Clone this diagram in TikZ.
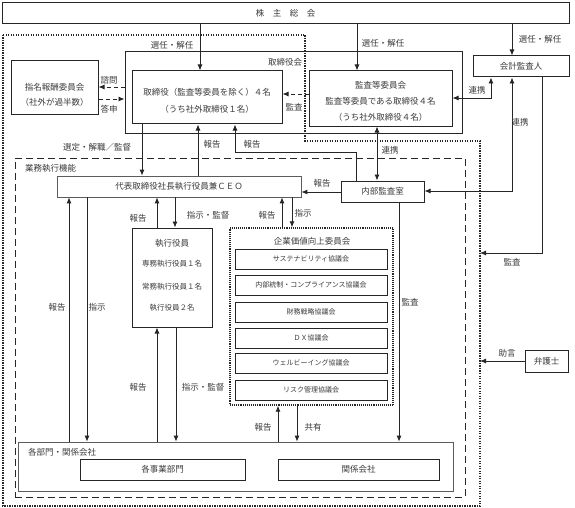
\documentclass[tikz,border=0pt]{standalone}
\usepackage{fontspec}
\newfontfamily\jp{Noto Sans CJK JP}
\usetikzlibrary{arrows.meta}
\definecolor{ln}{HTML}{262626}
\definecolor{tx}{HTML}{3A3A3A}
\tikzset{
  every node/.style={font=\jp\fontsize{8.5}{10}\selectfont, text=tx, inner sep=0pt},
  box/.style={draw=ln, line width=1pt, rectangle},
  thinbox/.style={draw=ln!75, line width=0.7pt, rectangle},
  arr/.style={draw=ln, line width=0.85pt, -{Latex[length=6pt,width=5pt]}},
  darr/.style={draw=ln, line width=0.85pt, {Latex[length=6pt,width=5pt]}-{Latex[length=6pt,width=5pt]}},
  dasharr/.style={arr, dash pattern=on 4pt off 3pt},
  outerdot/.style={draw=ln, line width=2pt, dash pattern=on 1.4pt off 1.1pt},
  commdot/.style={draw=ln, line width=1.4pt, dash pattern=on 1pt off 0.9pt, rectangle},
  funcbox/.style={draw=ln, line width=1pt, dash pattern=on 7pt off 4pt, rectangle},
  subbox/.style={draw=ln, line width=0.75pt, rectangle, minimum width=152pt, minimum height=20pt, font=\jp\fontsize{7}{8}\selectfont},
  small/.style={font=\jp\fontsize{7.5}{9}\selectfont},
}
\begin{document}
\begin{tikzpicture}[x=1pt,y=-1pt]
\useasboundingbox (0,0) rectangle (575,508);
% outer dotted boundary
\draw[outerdot] (3,35) -- (305,35) -- (305,141) -- (480,141) -- (480,506) -- (3,506) -- cycle;
\coordinate (od1) at (480,253);
\coordinate (od2) at (480,361);
% execution function dashed box
\node[funcbox, minimum width=450pt, minimum height=339pt] (func) at (240,327.5) {};
\node[anchor=west] (funcl) at (25,168) {業務執行機能};
% shareholders
\node[box, minimum width=567pt, minimum height=21pt] (sh) at (285.5,13.5) {株　主　総　会};
% board
\node[box, minimum width=337pt, minimum height=81pt] (board) at (293.5,92.5) {};
\node (boardl) at (285,62) {取締役会};
\node[box, minimum width=150pt, minimum height=53pt] (dir) at (207,97.5) {};
\node (dir1) at (207,92) {取締役（監査等委員を除く）４名};
\node (dir2) at (207,109) {（うち社外取締役１名）};
\node[box, minimum width=143pt, minimum height=55pt] (audit) at (380.5,98.5) {};
\node (aud1) at (380.5,85) {監査等委員会};
\node (aud2) at (380.5,101) {監査等委員である取締役４名};
\node (aud3) at (380.5,117) {（うち社外取締役４名）};
% nominating
\node[box, minimum width=87pt, minimum height=54pt] (nom) at (54.5,88) {};
\node (nom1) at (54.5,87) {指名報酬委員会};
\node (nom2) at (54.5,102) {（社外が過半数）};
% accounting auditor, lawyer
\node[box, minimum width=96pt, minimum height=21pt] (auditor) at (521,66.5) {会計監査人};
\node[box, minimum width=43pt, minimum height=22pt] (lawyer) at (546.5,361) {弁護士};
% internal audit, CEO
\node[box, minimum width=83pt, minimum height=21pt] (ia) at (382.5,191.5) {内部監査室};
\node[thinbox, minimum width=244pt, minimum height=21pt] (ceo) at (179,186.5) {代表取締役社長執行役員兼ＣＥＯ};
% executive officers
\node[box, minimum width=80pt, minimum height=99pt] (exec) at (172,277.5) {};
\node (ex1) at (172,243) {執行役員};
\node[small] (ex2) at (172,264) {専務執行役員１名};
\node[small] (ex3) at (172,287) {常務執行役員１名};
\node[small] (ex4) at (172,308) {執行役員２名};
% committee
\node[commdot, minimum width=163pt, minimum height=177pt] (comm) at (311.5,316.5) {};
\node (comml) at (312,241) {企業価値向上委員会};
\node[subbox] (s1) at (311,259) {サステナビリティ協議会};
\node[subbox] (s2) at (311,285) {内部統制・コンプライアンス協議会};
\node[subbox] (s3) at (311,312) {財務戦略協議会};
\node[subbox] (s4) at (311,338) {ＤＸ協議会};
\node[subbox] (s5) at (311,363) {ウェルビーイング協議会};
\node[subbox] (s6) at (311,390) {リスク管理協議会};
% departments
\node[thinbox, minimum width=435pt, minimum height=49pt] (dept) at (235.5,466.5) {};
\node[anchor=west] (deptl) at (28,452) {各部門・関係会社};
\node[box, minimum width=165pt, minimum height=21pt] (biz) at (162.5,469.5) {各事業部門};
\node[box, minimum width=161pt, minimum height=21pt] (rel) at (358.5,469.5) {関係会社};

% connectors from shareholders
\draw[arr] (200,0 |- sh.south) -- (200,0 |- dir.north);
\node (l1) at (172,45) {選任・解任};
\draw[arr] (357,0 |- sh.south) -- (357,0 |- audit.north);
\node (l2) at (383,43) {選任・解任};
\draw[arr] (512,0 |- sh.south) -- (512,0 |- auditor.north);
\node (l3) at (540,39) {選任・解任};
% nominating
\draw[dasharr] (board.west |- 0,87) -- (nom.east |- 0,87);
\node (l4) at (109,80) {諮問};
\draw[dasharr] (nom.east |- 0,99) -- (board.west |- 0,99);
\node (l5) at (109,109) {答申};
% audit -> directors
\draw[dasharr] (audit.west |- 0,94) -- (dir.east |- 0,94);
\node (l6) at (294,107) {監査};
% accounting auditor links
\draw[darr] (491,0 |- auditor.south) -- (491,98) -- (audit.east |- 0,98);
\node (l7) at (477,90) {連携};
\draw[darr] (512,0 |- auditor.south) -- (512,191) -- (ia.east |- 0,191);
\node (l8) at (520,122) {連携};
\draw[arr] (542,0 |- auditor.south) -- (542,253) -- (od1);
\node (l9) at (512,262) {監査};
\draw[arr] (lawyer.west) -- (od2);
\node (l10) at (507,353) {助言};
% board <-> CEO
\draw[arr] (142,0 |- dir.south) -- (142,0 |- ceo.north);
\node (l11) at (97,147) {選定・解職／監督};
\draw[arr] (198,0 |- ceo.north) -- (198,0 |- dir.south);
\node (l12) at (212,144) {報告};
\draw[arr] (356,0 |- ia.north) -- (356,152) -- (235,152) -- (235,0 |- dir.south);
\node (l13) at (252,144) {報告};
\draw[darr] (377,0 |- ia.north) -- (377,0 |- audit.south);
\node (l14) at (390,150) {連携};
% internal audit
\draw[arr] (ia.west |- 0,192) -- (ceo.east |- 0,192);
\node (l15) at (322,183) {報告};
\draw[arr] (399,0 |- ia.south) -- (399,0 |- dept.north);
\node (l16) at (410,302) {監査};
% CEO <-> exec, committee
\draw[arr] (157,0 |- exec.north) -- (157,0 |- ceo.south);
\node (l17) at (138,218) {報告};
\draw[arr] (175,0 |- ceo.south) -- (175,0 |- exec.north);
\node (l18) at (208,215) {指示・監督};
\draw[arr] (282,0 |- comm.north) -- (282,0 |- ceo.south);
\node (l19) at (267,215) {報告};
\draw[arr] (292,0 |- ceo.south) -- (292,0 |- comm.north);
\node (l20) at (303,213) {指示};
% departments links
\draw[arr] (69,0 |- dept.north) -- (69,0 |- ceo.south);
\node (l21) at (57,307) {報告};
\draw[arr] (87,0 |- ceo.south) -- (87,0 |- dept.north);
\node (l22) at (97,307) {指示};
\draw[arr] (157,0 |- dept.north) -- (157,0 |- exec.south);
\node (l23) at (138,387) {報告};
\draw[arr] (176,0 |- exec.south) -- (176,0 |- dept.north);
\node (l24) at (203,387) {指示・監督};
\draw[arr] (278,0 |- dept.north) -- (278,0 |- comm.south);
\node (l25) at (263,427) {報告};
\draw[arr] (297,0 |- comm.south) -- (297,0 |- dept.north);
\node (l26) at (313,427) {共有};
\end{tikzpicture}
\end{document}
